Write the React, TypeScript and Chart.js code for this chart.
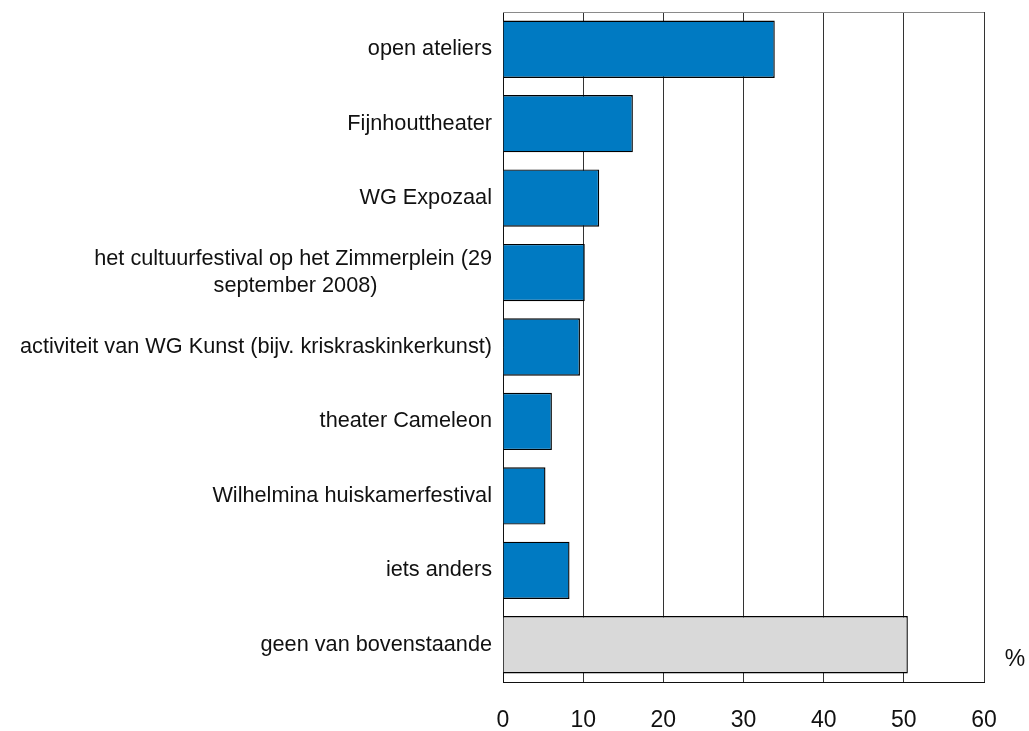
import React, { useEffect, useRef } from "react";
import { Chart, registerables } from "chart.js";

Chart.register(...registerables);

const categories: (string | string[])[] = [
  "open ateliers",
  "Fijnhouttheater",
  "WG Expozaal",
  ["het cultuurfestival op het Zimmerplein (29", "september 2008)"],
  "activiteit van WG Kunst (bijv. kriskraskinkerkunst)",
  "theater Cameleon",
  "Wilhelmina huiskamerfestival",
  "iets anders",
  "geen van bovenstaande",
];
const values = [33.9, 16.2, 12.0, 10.2, 9.6, 6.1, 5.3, 8.3, 50.5];
const barColors = [
  "#007AC2", "#007AC2", "#007AC2", "#007AC2", "#007AC2",
  "#007AC2", "#007AC2", "#007AC2", "#D9D9D9",
];
const xMin = 0;
const xMax = 60;
const xStep = 10;
const unitLabel = "%";

const FONT_FAMILY = "'Liberation Sans', Arial, Helvetica, sans-serif";
const Y_FONT_SIZE = 21.7;
const X_FONT_SIZE = 23;

function centerLines(lines: string[], size: number): string[] {
  const c = document.createElement("canvas").getContext("2d")!;
  c.font = `${size}px ${FONT_FAMILY}`;
  const widths = lines.map((l) => c.measureText(l).width);
  const max = Math.max(...widths);
  const sp = c.measureText("\u00A0").width || 1;
  return lines.map((l, i) => l + "\u00A0".repeat(Math.round((max - widths[i]) / 2 / sp)));
}

const frameAndUnit = {
  id: "frameAndUnit",
  afterDraw(chart: any) {
    const { ctx, chartArea } = chart;
    ctx.save();
    ctx.strokeStyle = "#8a8a8a";
    ctx.lineWidth = 1;
    ctx.beginPath();
    ctx.moveTo(chartArea.left, Math.round(chartArea.top) + 0.5);
    ctx.lineTo(chartArea.right, Math.round(chartArea.top) + 0.5);
    ctx.stroke();
    ctx.fillStyle = "#111";
    ctx.font = `${X_FONT_SIZE}px ${FONT_FAMILY}`;
    ctx.textAlign = "center";
    ctx.textBaseline = "middle";
    ctx.fillText(unitLabel, chartArea.right + 31, chartArea.bottom - 22);
    ctx.restore();
  },
};

export default function App() {
  const ref = useRef<HTMLCanvasElement | null>(null);
  useEffect(() => {
    if (!ref.current) return;
    const chart = new Chart(ref.current, {
      type: "bar",
      data: {
        labels: categories as any,
        datasets: [
          {
            data: values,
            backgroundColor: barColors,
            borderColor: "#000",
            borderWidth: 1.4,
            barPercentage: 0.77,
            categoryPercentage: 1,
          },
        ],
      },
      options: {
        indexAxis: "y",
        responsive: false,
        animation: false,
        layout: { padding: { top: 12, right: 45, left: 0, bottom: 0 } },
        plugins: { legend: { display: false }, tooltip: { enabled: false } },
        scales: {
          x: {
            min: xMin,
            max: xMax,
            ticks: {
              stepSize: xStep,
              color: "#111",
              padding: 25,
              font: { family: FONT_FAMILY, size: X_FONT_SIZE },
            },
            grid: { color: "#333", lineWidth: 1, drawTicks: false },
            border: { color: "#111", width: 1 },
            afterFit(scale: any) {
              scale.height = 49;
              scale.paddingLeft = 0;
              scale.paddingRight = 0;
            },
          },
          y: {
            ticks: {
              color: "#111",
              padding: 11,
              font: { family: FONT_FAMILY, size: Y_FONT_SIZE, lineHeight: 1.22 },
              autoSkip: false,
              callback(_v: any, index: number) {
                const lab = categories[index];
                return Array.isArray(lab) ? centerLines(lab, Y_FONT_SIZE) : lab;
              },
            },
            grid: { display: false, drawTicks: false },
            border: { color: "#111", width: 1 },
            afterFit(scale: any) {
              scale.width = 503;
              scale.paddingTop = 0;
              scale.paddingBottom = 0;
            },
          },
        },
      },
      plugins: [frameAndUnit],
    });
    return () => chart.destroy();
  }, []);
  return (
    <div style={{ position: "absolute", left: 0, top: 0, width: 1029, height: 731, background: "#fff" }}>
      <canvas ref={ref} width={1029} height={731} />
    </div>
  );
}
